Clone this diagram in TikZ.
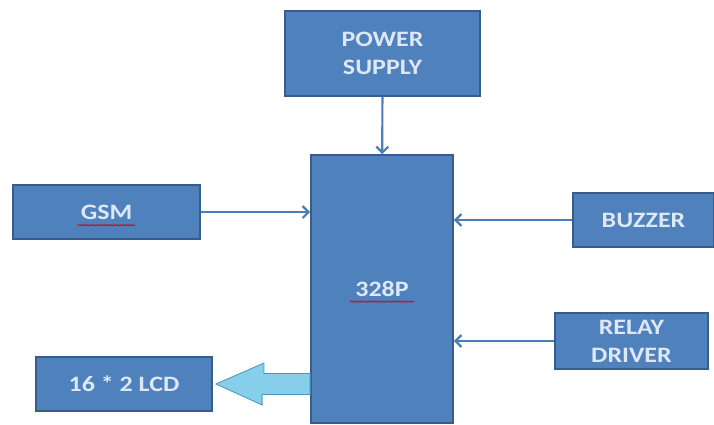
\documentclass[tikz,border=0pt]{standalone}
\usepackage{fontspec}
\setmainfont{Carlito}
\newfontfamily\blockfont[FakeStretch=1.18]{Carlito}
\usetikzlibrary{arrows.meta,decorations.pathmorphing}
\definecolor{blockblue}{RGB}{79,129,189}
\definecolor{blockedge}{RGB}{56,93,138}
\definecolor{blocktext}{RGB}{222,231,244}
\definecolor{lineblue}{RGB}{74,126,187}
\definecolor{lcdcyan}{RGB}{135,206,235}
\definecolor{lcdedge}{RGB}{70,150,185}

\begin{document}
\begin{tikzpicture}[x=1pt, y=-1pt,
    block/.style={draw=blockedge, line width=1.8pt, fill=blockblue, text=blocktext,
        align=center, inner sep=0pt, font=\blockfont\bfseries\fontsize{22}{28}\selectfont},
    link/.style={draw=lineblue, line width=2.2pt, -{Straight Barb[length=6pt, width=12pt]}},
    bigarrow/.style={draw=lcdedge, line width=0.8pt, fill=lcdcyan},
    squiggle/.style={draw=red!80!black, line width=0.6pt, decorate,
        decoration={snake, segment length=3pt, amplitude=0.8pt}}]
    \useasboundingbox (0,0) rectangle (714,424);

    % controller
    \node[block, minimum width=142, minimum height=268] (mcu) at (382, 289) {328P};

    % power supply
    \node[block, minimum width=195, minimum height=85] (power) at (382.5, 53.5) {POWER\\SUPPLY};

    % inputs and outputs
    \node[block, minimum width=187, minimum height=54] (gsm) at (106.5, 212) {GSM};
    \node[block, minimum width=141, minimum height=54] (buzzer) at (643.5, 220) {BUZZER};
    \node[block, minimum width=153, minimum height=56] (relay) at (631.5, 341) {RELAY\\DRIVER};
    \node[block, minimum width=176, minimum height=54] (lcd) at (124, 384) {16 * 2 LCD};

    % spell check marks
    \draw[squiggle] ([shift={(-29,6)}]gsm.base) -- ([shift={(29,6)}]gsm.base);
    \draw[squiggle] ([shift={(-32,5)}]mcu.base) -- ([shift={(32,5)}]mcu.base);

    % connections
    \draw[link] (power) -- (mcu);
    \draw[link] (gsm.east) -- (gsm.east -| mcu.west);
    \draw[link] (buzzer.west) -- (buzzer.west -| mcu.east);
    \draw[link] (relay.west) -- (relay.west -| mcu.east);

    % lcd data arrow
    \draw[bigarrow] ([xshift=3]lcd.east) -- ++(48,-21) -- ++(0,10.5)
        -- (mcu.west |- 0,373.5) -- (mcu.west |- 0,394.5)
        -- ++(-48,0) -- ++(0,10.5) -- cycle;
\end{tikzpicture}
\end{document}
